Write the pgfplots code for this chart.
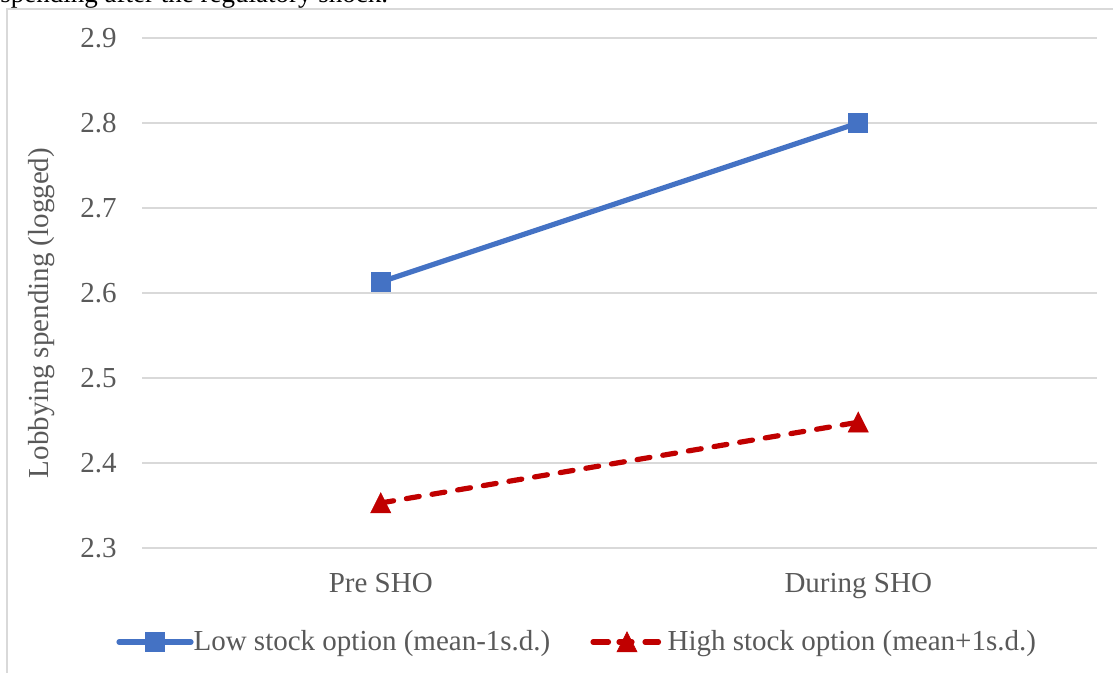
\documentclass[border=0pt]{standalone}
\usepackage{pgfplots}
\pgfplotsset{compat=1.18}
\usepackage{fontspec}
\setmainfont{Liberation Serif}

\definecolor{lowblue}{HTML}{4472C4}
\definecolor{highred}{HTML}{C00000}
\definecolor{gridgray}{HTML}{D9D9D9}
\definecolor{labelgray}{HTML}{595959}

\newcommand{\chartfont}{\fontsize{14.5bp}{17bp}\selectfont}

% legend symbols: short line with the marker in the middle
\pgfplotsset{
  solid legend/.style={legend image code/.code={
    \path (0bp,0bp) -- (36bp,0bp);
    \draw[mark repeat=2, mark phase=2, ##1] plot coordinates {(1.25bp,0bp) (18bp,0bp) (34.75bp,0bp)};}},
  dashed legend/.style={legend image code/.code={
    \path (0bp,0bp) -- (36bp,0bp);
    \draw[mark repeat=2, mark phase=2, ##1, dash pattern=on 6.5bp off 19bp] plot coordinates {(1.25bp,0bp) (17bp,0bp) (32.75bp,0bp)};}},
}

\begin{document}
\begin{tikzpicture}
% frame of the chart area (left and top edges)
\draw[gridgray, line width=1bp] (3.5bp,-340bp) -- (3.5bp,-4.5bp) -- (560bp,-4.5bp);
% running text line above the frame
\node[anchor=base west, inner sep=0pt, font=\fontsize{13.5bp}{16bp}\selectfont] at (0bp,-1.25bp) {spending after the regulatory shock.};

\begin{axis}[
  at={(71bp,-274bp)}, anchor=south west,
  scale only axis, width=477.5bp, height=255bp,
  xmin=0, xmax=2, ymin=2.3, ymax=2.9,
  xtick={0.5,1.5}, xticklabels={Pre SHO, During SHO},
  ytick={2.3,2.4,2.5,2.6,2.7,2.8,2.9},
  /pgf/number format/assume math mode=true,
  yticklabel style={/pgf/number format/fixed, /pgf/number format/precision=1, /pgf/number format/fixed zerofill},
  ymajorgrids, grid style={gridgray, line width=1bp},
  axis line style={draw=none},
  major tick length=0pt,
  tick label style={labelgray, font=\chartfont, inner sep=0pt},
  yticklabel style={anchor=east, xshift=-12.5bp},
  xticklabel style={anchor=north, yshift=-12.5bp},
  ylabel={Lobbying spending (logged)},
  every axis y label/.style={at={(axis description cs:-0.1047,0.4608)}, rotate=90, anchor=center, labelgray, font=\chartfont},
  legend columns=2,
  legend style={at={(axis description cs:-0.0272,-0.1843)}, anchor=west, draw=none, fill=none, inner sep=0pt,
    font=\chartfont, text=labelgray, nodes={inner sep=0pt},
    /tikz/every odd column/.append style={column sep=0bp},
    /tikz/every even column/.append style={column sep=20bp}},
  clip=false,
]
\addplot[lowblue, line width=2.6bp, line cap=round, mark=square*, mark size=4.75bp,
  mark options={solid, fill=lowblue, draw=lowblue, line width=0.5bp}, solid legend]
  coordinates {(0.5,2.613) (1.5,2.800)};
\addlegendentry{Low stock option (mean-1s.d.)}

\addplot[highred, line width=2.6bp, line cap=round, dash pattern=on 6.5bp off 6.5bp,
  mark=triangle*, mark size=5.8bp,
  mark options={solid, fill=highred, draw=highred, line width=0.3bp, yshift=-1.6bp, yscale=1.15}, dashed legend]
  coordinates {(0.5,2.353) (1.5,2.448)};
\addlegendentry{High stock option (mean+1s.d.)}
\end{axis}

\pgfresetboundingbox
\path[use as bounding box] (0bp,0bp) rectangle (556.5bp,-336.5bp);
\end{tikzpicture}
\end{document}
